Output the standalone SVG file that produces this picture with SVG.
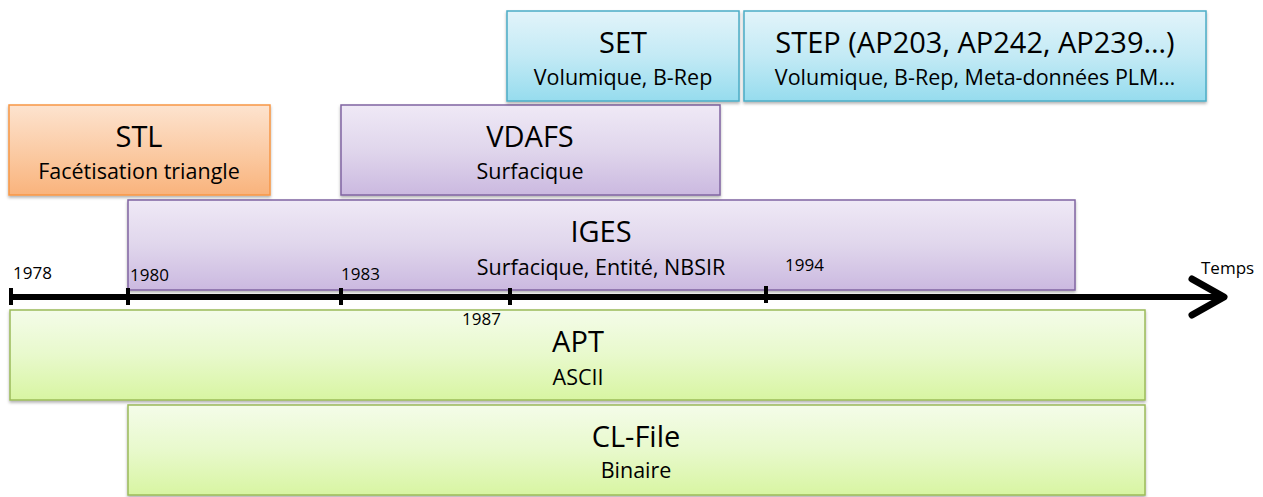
<svg xmlns="http://www.w3.org/2000/svg" width="1263" height="497" viewBox="0 0 1263 497">
<defs>
<linearGradient id="gO" x1="0" y1="0" x2="0" y2="1"><stop offset="0" stop-color="#fde3cf"/><stop offset="0.5" stop-color="#fbcca6"/><stop offset="1" stop-color="#f9b37c"/></linearGradient>
<linearGradient id="gP" x1="0" y1="0" x2="0" y2="1"><stop offset="0" stop-color="#efe9f6"/><stop offset="0.5" stop-color="#e0d6ec"/><stop offset="1" stop-color="#cbb9e0"/></linearGradient>
<linearGradient id="gC" x1="0" y1="0" x2="0" y2="1"><stop offset="0" stop-color="#e2f4fa"/><stop offset="0.5" stop-color="#c3eaf5"/><stop offset="1" stop-color="#96dcee"/></linearGradient>
<linearGradient id="gG" x1="0" y1="0" x2="0" y2="1"><stop offset="0" stop-color="#f4fce9"/><stop offset="0.5" stop-color="#e8f9cc"/><stop offset="1" stop-color="#d8f5a2"/></linearGradient>
<filter id="sh" x="-5%" y="-10%" width="110%" height="130%"><feDropShadow dx="0" dy="2" stdDeviation="1.5" flood-color="#000" flood-opacity="0.3"/></filter>
</defs>
<style>
.o{fill:url(#gO);stroke:#f79646;stroke-width:1.5}
.p{fill:url(#gP);stroke:#8064a2;stroke-width:1.5}
.c{fill:url(#gC);stroke:#4bacc6;stroke-width:1.5}
.g{fill:url(#gG);stroke:#9bbb59;stroke-width:1.5}
text{font-family:"Open Sans","Liberation Sans",sans-serif;fill:#000;text-anchor:middle}
.t{font-size:29px}
.s{font-size:21.5px}
.y{font-size:17px;text-anchor:start}
.ax{stroke:#000;fill:none}
</style>
<g id="CL-File"><rect class="g" x="128" y="405" width="1017" height="90" filter="url(#sh)"/><text class="t" x="636" y="447">CL-File</text><text class="s" x="636" y="478">Binaire</text></g>
<g id="APT"><rect class="g" x="10" y="310" width="1135" height="90" filter="url(#sh)"/><text class="t" x="578" y="352">APT</text><text class="s" x="578" y="385">ASCII</text></g>
<g id="IGES"><rect class="p" x="128" y="200" width="947" height="90" filter="url(#sh)"/><text class="t" x="601" y="242">IGES</text><text class="s" x="601" y="275">Surfacique, Entité, NBSIR</text></g>
<g id="STL"><rect class="o" x="9" y="105" width="261" height="90" filter="url(#sh)"/><text class="t" x="139" y="147">STL</text><text class="s" x="139" y="179">Facétisation triangle</text></g>
<g id="VDAFS"><rect class="p" x="341" y="105" width="379" height="90" filter="url(#sh)"/><text class="t" x="530" y="147">VDAFS</text><text class="s" x="530" y="179">Surfacique</text></g>
<g id="SET"><rect class="c" x="507" y="11" width="232" height="90" filter="url(#sh)"/><text class="t" x="623" y="53">SET</text><text class="s" x="623" y="85">Volumique, B-Rep</text></g>
<g id="STEP"><rect class="c" x="744" y="11" width="462" height="90" filter="url(#sh)"/><text class="t" x="975" y="53">STEP (AP203, AP242, AP239…)</text><text class="s" x="975" y="85">Volumique, B-Rep, Meta-données PLM…</text></g>
<g id="connectors">
<line class="ax" x1="10" y1="297" x2="1222" y2="297" stroke-width="6"/>
<polyline class="ax" points="1192,279 1224,297 1192,315" stroke-width="7" stroke-linecap="round" stroke-linejoin="round"/>
<g stroke="#000" stroke-width="4">
<line x1="11" y1="288" x2="11" y2="305"/>
<line x1="128" y1="288" x2="128" y2="305"/>
<line x1="341" y1="288" x2="341" y2="305"/>
<line x1="510" y1="288" x2="510" y2="305"/>
<line x1="766" y1="286" x2="766" y2="303"/>
</g>
</g>
<g id="labels">
<text class="y" x="13" y="279">1978</text>
<text class="y" x="130" y="281">1980</text>
<text class="y" x="341" y="280">1983</text>
<text class="y" x="462" y="325">1987</text>
<text class="y" x="785" y="271">1994</text>
<text class="y" x="1201" y="274">Temps</text>
</g>
</svg>
